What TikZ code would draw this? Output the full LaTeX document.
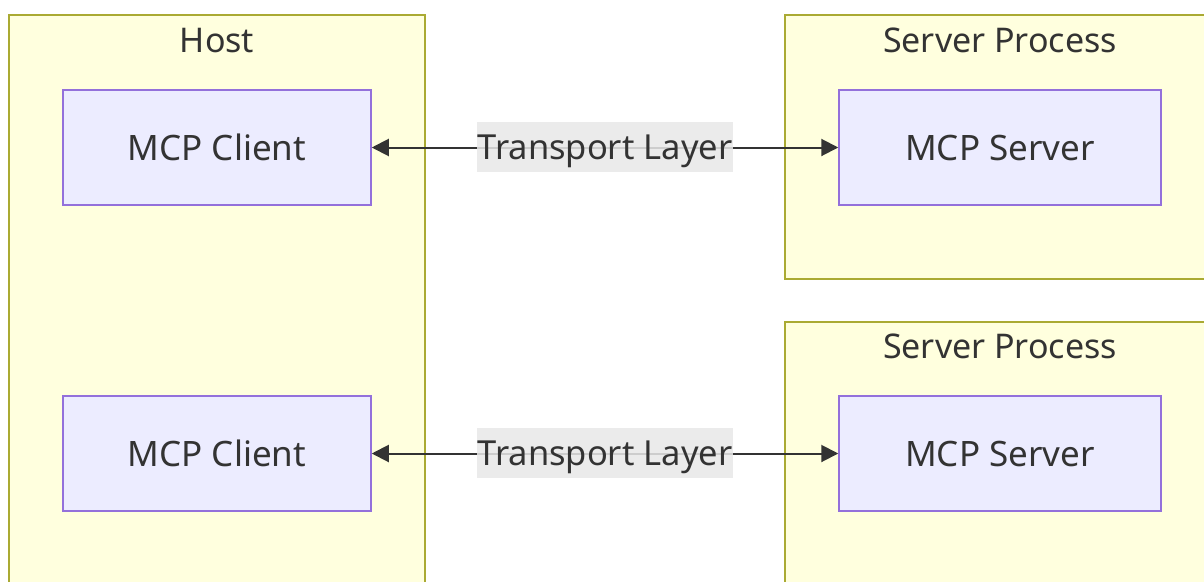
\documentclass[tikz,border=0pt]{standalone}
\usepackage{fontspec}
\setmainfont{Noto Sans}
\usetikzlibrary{arrows.meta}
\definecolor{grpfill}{HTML}{FFFFDE}
\definecolor{grpline}{HTML}{AAAA33}
\definecolor{nodefill}{HTML}{ECECFF}
\definecolor{nodeline}{HTML}{9370DB}
\definecolor{txt}{HTML}{333333}
\definecolor{lblfill}{HTML}{E8E8E8}
\tikzset{
  grp/.style={draw=grpline, fill=grpfill, line width=1.5pt},
  grptitle/.style={text=txt, font=\fontsize{34}{39}\selectfont, anchor=base, inner sep=0pt},
  box/.style={draw=nodeline, fill=nodefill, line width=1.5pt, minimum width=308pt, minimum height=115pt, inner sep=0pt, text height=30pt, text depth=5pt, text=txt, font=\fontsize{35}{40}\selectfont},
  sbox/.style={box, minimum width=322pt},
  lbl/.style={fill=lblfill, fill opacity=0.85, text opacity=1, text=txt, font=\fontsize{34.5}{40}\selectfont, minimum width=256pt, minimum height=50pt, inner sep=0pt, text height=30pt, text depth=5pt},
  conn/.style={draw=txt, line width=2pt, {Triangle[length=17pt,width=17pt]}-{Triangle[length=17pt,width=17pt]}}
}
\begin{document}
\begin{tikzpicture}[x=1pt,y=-1pt]
\path[use as bounding box, fill=white] (0,0) rectangle (1204,581);
\begin{scope}
\clip (0,0) rectangle (1204,581);
\draw[grp] (9,15) rectangle (425,600);
\draw[grp] (785,15) rectangle (1215,279);
\draw[grp] (785,322) rectangle (1215,600);
\end{scope}
\node[grptitle] (th) at (217,52) {Host};
\node[grptitle] (ts1) at (1000,52) {Server Process};
\node[grptitle] (ts2) at (1000,358) {Server Process};
\node[box] (c1) at (217,147.5) {MCP Client};
\node[box] (c2) at (217,453.5) {MCP Client};
\node[sbox] (s1) at (1000,147.5) {MCP Server};
\node[sbox] (s2) at (1000,453.5) {MCP Server};
\draw[conn] (c1.east) -- (s1.west);
\draw[conn] (c2.east) -- (s2.west);
\node[lbl] (l1) at (605,146.5) {Transport Layer};
\node[lbl] (l2) at (605,452.5) {Transport Layer};
\end{tikzpicture}
\end{document}
